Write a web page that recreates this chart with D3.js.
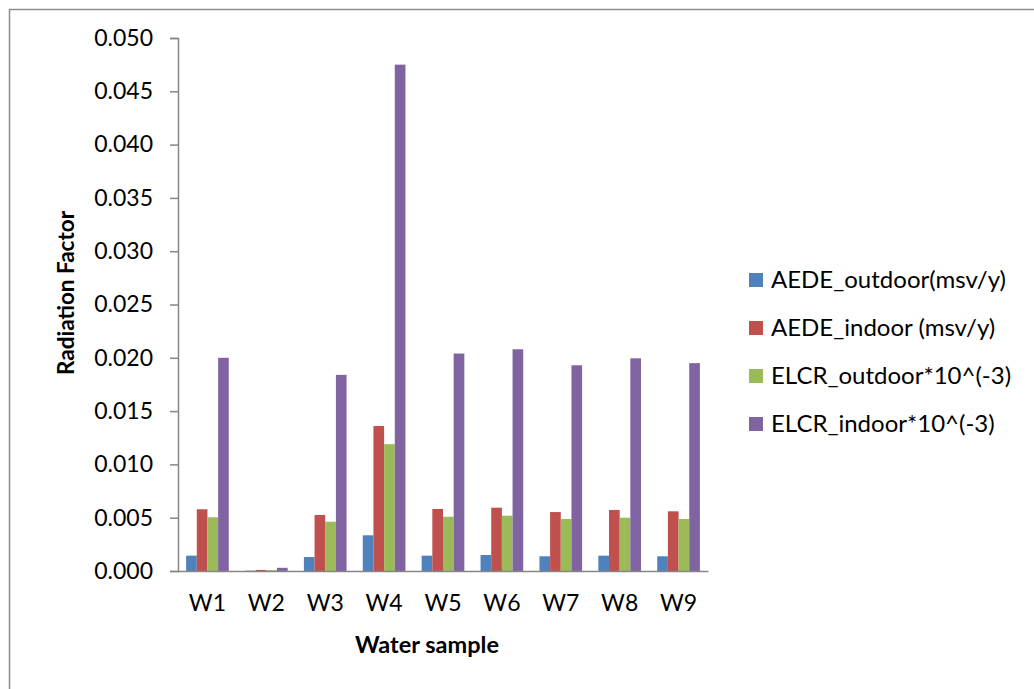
<!DOCTYPE html>
<html>
<head>
<meta charset="utf-8">
<script src="https://cdn.jsdelivr.net/npm/d3@7"></script>
<style>
  body { margin: 0; background: #fff; }
  svg { display: block; font-family: Lato, "Open Sans", sans-serif; }
</style>
</head>
<body>
<svg width="1034" height="689"></svg>
<script>
var samples = ['W1', 'W2', 'W3', 'W4', 'W5', 'W6', 'W7', 'W8', 'W9'];
var seriesNames = ['AEDE_outdoor(msv/y)', 'AEDE_indoor (msv/y)', 'ELCR_outdoor*10^(-3)', 'ELCR_indoor*10^(-3)'];
var aedeOutdoor = [0.00144, 0.00003, 0.00131, 0.00335, 0.00144, 0.0015, 0.00138, 0.00144, 0.00138];
var aedeIndoor = [0.00579, 0.0001, 0.00525, 0.0136, 0.00582, 0.00594, 0.00553, 0.00572, 0.0056];
var elcrOutdoor = [0.00504, 0.00008, 0.00462, 0.0119, 0.00509, 0.00519, 0.00488, 0.005, 0.00488];
var elcrIndoor = [0.0200, 0.0003, 0.0184, 0.0475, 0.0204, 0.0208, 0.0193, 0.01995, 0.0195];
var yTicks = [0, 0.005, 0.01, 0.015, 0.02, 0.025, 0.03, 0.035, 0.04, 0.045, 0.05];
var colors = ['#4F81BD', '#C0504D', '#9BBB59', '#8064A2'];

var series = [aedeOutdoor, aedeIndoor, elcrOutdoor, elcrIndoor];

var svg = d3.select('svg');

// outer chart frame (runs off the right and bottom edges)
svg.append('rect')
    .attr('x', 9.5).attr('y', 9.5)
    .attr('width', 1200).attr('height', 1000)
    .attr('fill', 'none')
    .attr('stroke', '#8c8c8c')
    .attr('stroke-width', 1.5);

var plotLeft = 178, plotRight = 708, plotTop = 38, plotBottom = 571;

var x = d3.scaleBand().domain(samples).range([plotLeft, plotRight]);
var x1 = d3.scaleBand().domain(d3.range(series.length))
    .range([0, x.bandwidth()]).paddingOuter(0.76);
var y = d3.scaleLinear().domain([0, 0.05]).range([plotBottom, plotTop]);

// bars
series.forEach(function(vals, s) {
  svg.append('g').selectAll('rect')
    .data(vals)
    .enter()
    .append('rect')
    .attr('x', function(d, i) { return x(samples[i]) + x1(s); })
    .attr('y', function(d) { return y(d); })
    .attr('width', x1.bandwidth())
    .attr('height', function(d) { return plotBottom - y(d); })
    .attr('fill', colors[s]);
});

// y axis
var yAxis = d3.axisLeft(y).tickValues(yTicks).tickFormat(d3.format('.3f')).tickSize(8).tickPadding(17);
var gy = svg.append('g').attr('transform', 'translate(' + plotLeft + ',0)').call(yAxis);
gy.select('.domain').attr('stroke', '#868686').attr('stroke-width', 1.5);
gy.selectAll('.tick line').attr('stroke', '#868686').attr('stroke-width', 1.5);
gy.selectAll('.tick text').attr('font-family', 'Lato').attr('font-size', 23).attr('fill', '#000');

// x axis
var xAxis = d3.axisBottom(x).tickSize(0).tickPadding(24);
var gx = svg.append('g').attr('transform', 'translate(0,' + plotBottom + ')').call(xAxis);
gx.select('.domain').attr('stroke', '#868686').attr('stroke-width', 1.5);
gx.selectAll('.tick text').attr('font-family', 'Lato').attr('font-size', 23).attr('fill', '#000');

// axis titles
svg.append('text')
    .attr('x', 427).attr('y', 653)
    .attr('text-anchor', 'middle')
    .attr('font-weight', 'bold')
    .attr('font-size', 23.5)
    .text('Water sample');

svg.append('text')
    .attr('transform', 'translate(74,293) rotate(-90)')
    .attr('text-anchor', 'middle')
    .attr('font-weight', 'bold')
    .attr('font-size', 22.5)
    .text('Radiation Factor');

// legend
var legend = svg.append('g').selectAll('g')
    .data(seriesNames)
    .enter()
    .append('g')
    .attr('transform', function(d, i) { return 'translate(749,' + (280 + i * 48) + ')'; });

legend.append('rect')
    .attr('x', 0).attr('y', -7)
    .attr('width', 14).attr('height', 14)
    .attr('fill', function(d, i) { return colors[i]; });

legend.append('text')
    .attr('x', 22).attr('y', 8)
    .attr('font-size', 24)
    .text(function(d) { return d; });
</script>
</body>
</html>
